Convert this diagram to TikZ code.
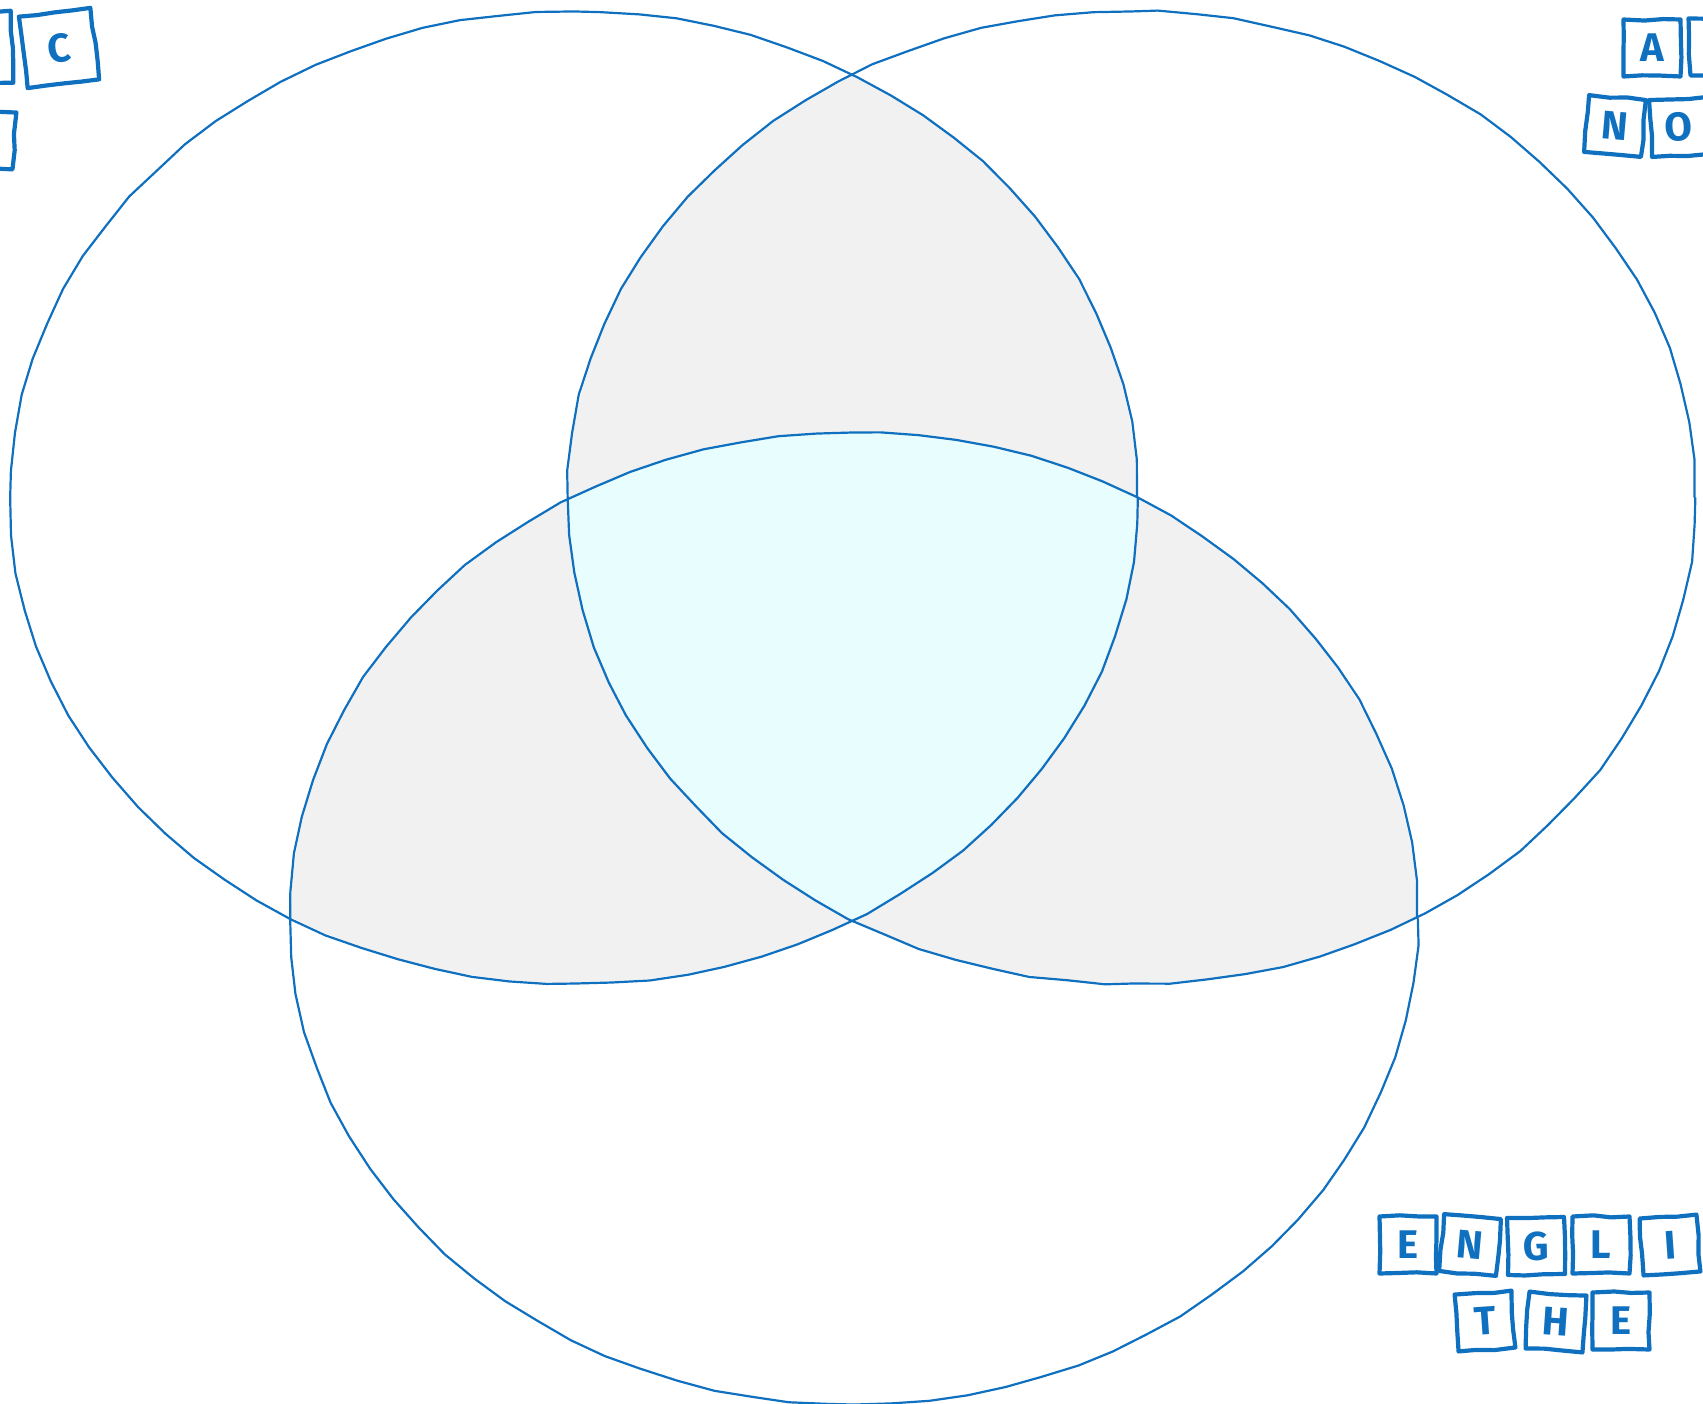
\documentclass[tikz,border=0pt]{standalone}
\usepackage{fontspec}
\setmainfont{Fira Sans}
\usetikzlibrary{decorations.pathmorphing}
\definecolor{vblue}{RGB}{16,112,192}
\definecolor{vgray}{RGB}{241,241,241}
\definecolor{vcyan}{RGB}{232,253,253}
\tikzset{
  vline/.style={draw=vblue, line width=2.2pt, line join=round,
    decorate, decoration={random steps, segment length=38pt, amplitude=0.8pt}},
  tile/.style={draw=vblue, line width=4.2pt, line join=round, line cap=round, minimum size=57pt, inner sep=0pt,
    text=vblue, font=\fontsize{40}{40}\selectfont\bfseries,
    decorate, decoration={random steps, segment length=18pt, amplitude=1.2pt}},
  bigtile/.style={tile, minimum size=72pt}
}
\pgfmathsetseed{7}
\begin{document}
\begin{tikzpicture}[x=1pt,y=-1pt]
\useasboundingbox (0,0) rectangle (1703,1404);
\def\ea{(574,497.5) ellipse [x radius=563pt, y radius=485.5pt]}
\def\eb{(1131.5,497.5) ellipse [x radius=563pt, y radius=485.5pt]}
\def\ec{(854,918.5) ellipse [x radius=563pt, y radius=485.5pt]}
% pairwise overlaps
\begin{scope}\clip \ea; \fill[vgray] \eb; \end{scope}
\begin{scope}\clip \ea; \fill[vgray] \ec; \end{scope}
\begin{scope}\clip \eb; \fill[vgray] \ec; \end{scope}
% triple overlap
\begin{scope}\clip \ea; \clip \eb; \fill[vcyan] \ec; \end{scope}
% outlines
\draw[vline] \ea;
\draw[vline] \eb;
\draw[vline] \ec;
% top-left tiles
\node[bigtile, rotate=7] (tC) at (59,48) {C};
\node[bigtile, rotate=2] (tL1) at (-24,48) {};
\node[tile, rotate=-4] (tL2) at (-14,139) {};
% top-right tiles
\node[tile] (tA) at (1652,48) {A};
\node[tile, rotate=2] (tR1) at (1718,46) {};
\node[tile, rotate=-5] (tN) at (1615,126) {N};
\node[tile, rotate=3] (tO) at (1679,127) {O};
% bottom-right tiles
\node[tile] (e1) at (1408,1245) {E};
\node[tile, rotate=-5] (n1) at (1470,1245) {N};
\node[tile, rotate=1] (g1) at (1536,1246) {G};
\node[tile] (l1) at (1601,1245) {L};
\node[tile, rotate=4] (i1) at (1670,1245) {I};
\node[tile, rotate=4] (t2) at (1485,1321) {T};
\node[tile, rotate=-4] (h2) at (1556,1322) {H};
\node[tile] (e2) at (1621,1321) {E};
\end{tikzpicture}
\end{document}
